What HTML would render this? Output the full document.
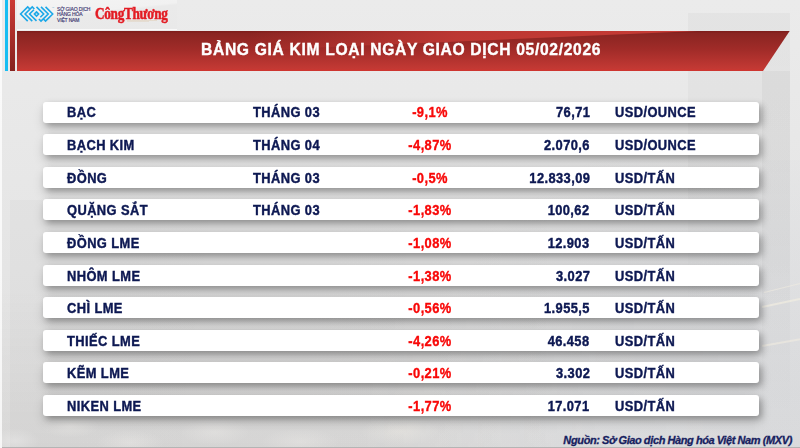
<!DOCTYPE html>
<html><head><meta charset="utf-8">
<style>
html,body{margin:0;padding:0;}
body{width:800px;height:448px;overflow:hidden;position:relative;background:#e2e2e2;font-family:"Liberation Sans",sans-serif;}
.abs{position:absolute;}
.bg{left:0;top:0;width:800px;height:448px;
 background:linear-gradient(180deg,#ebebeb 0%,#e8e8e8 30%,#e5e5e5 60%,#e0e0e0 100%);}
.stripe1{left:5.4px;top:0;width:2.6px;height:71px;background:#17bdf2;}
.stripe2{left:10px;top:0;width:5px;height:71px;background:linear-gradient(180deg,#cc3a35 0%,#a92e2a 50%,#86231f 100%);}
.logobox{left:17px;top:0;width:160px;height:28.5px;background:linear-gradient(174deg,#f4f4f4 0%,#f1f1f1 42%,#eaeaea 47%,#e9e9e9 100%);box-shadow:0 1px 0 rgba(255,255,255,0.7);}
.banner{left:17px;top:30.5px;width:773px;height:40.5px;
 background:linear-gradient(180deg,#7c1c1a 0%,#8a2522 6%,#a02b28 45%,#c33934 94%,#d0352f 100%);
 clip-path:polygon(0 0,100% 0,calc(100% - 27px) 100%,0 100%);}
.hl{left:250px;top:30.5px;width:459px;height:20px;
 background:linear-gradient(90deg,rgba(196,58,53,0) 0%,rgba(196,58,53,0.85) 45%,rgba(200,60,54,1) 100%);
 clip-path:polygon(0 0,100% 0,0 100%);}
.title{left:201px;top:39px;color:#fff;font-weight:bold;font-size:17px;line-height:22px;white-space:nowrap;letter-spacing:0.72px;-webkit-text-stroke:0.4px #fff;transform:scaleX(0.92);transform-origin:0 50%;}
.row{position:absolute;left:43px;width:716px;height:21px;background:#fff;border-radius:3px;
 box-shadow:3px 3px 6px rgba(0,0,0,0.26),1px 6px 12px rgba(0,0,0,0.16);}
.t{position:absolute;font-weight:bold;font-size:14px;line-height:21px;color:#0d1852;white-space:nowrap;top:1px;letter-spacing:0.45px;transform:scaleX(0.92);transform-origin:0 50%;-webkit-text-stroke:0.4px #0d1852;}
.c1{left:24px;}
.c4{transform-origin:100% 50% !important;}
.c3{transform-origin:50% 50% !important;}
.r1 .t{top:0px;}
.c2{left:210px;}
.c3{left:287px;width:200px;text-align:center;color:#f80808;-webkit-text-stroke:0.35px #f80808;}
.c4{right:169px;text-align:right;}
.c5{left:572px;}
.src{right:8px;top:434px;font-weight:bold;font-style:italic;font-size:11px;line-height:13px;color:#17215f;white-space:nowrap;letter-spacing:-0.36px;word-spacing:-0.3px;-webkit-text-stroke:0.3px #17215f;}
.lg{font-size:5px;line-height:5.6px;color:#3b3570;left:57px;top:6.5px;letter-spacing:-0.15px;-webkit-text-stroke:0.15px #3b3570;white-space:nowrap;}
.ct{left:95px;top:2.8px;font-family:"Liberation Serif",serif;font-weight:bold;font-size:17.5px;line-height:20px;color:#e31b23;white-space:nowrap;transform:scaleX(0.76);transform-origin:0 0;-webkit-text-stroke:0.55px #e31b23;letter-spacing:-0.45px;}
</style></head><body>
<div class="abs bg"></div>
<div class="abs" style="left:688px;top:13px;width:102px;height:300px;background:linear-gradient(180deg,rgba(0,0,0,0.03),rgba(0,0,0,0.02) 60%,rgba(0,0,0,0))"></div>
<div class="abs" style="left:762px;top:71px;width:28px;height:377px;background:linear-gradient(180deg,rgba(0,0,0,0.035),rgba(0,0,0,0.03) 50%,rgba(0,0,0,0.0))"></div>
<div class="abs" style="left:10px;top:200px;width:560px;height:248px;background:linear-gradient(90deg,rgba(0,0,0,0.025),rgba(0,0,0,0.015) 70%,rgba(0,0,0,0))"></div>
<div class="abs" style="left:0;top:290px;width:800px;height:158px;background:linear-gradient(180deg,rgba(120,110,100,0) 0%,rgba(120,110,100,0.04) 55%,rgba(120,110,100,0.065) 100%);-webkit-mask-image:linear-gradient(90deg,#000 0%,#000 45%,rgba(0,0,0,0.15) 75%,rgba(0,0,0,0) 100%)"></div>
<div class="abs" style="left:420px;top:160px;width:380px;height:288px;background:radial-gradient(ellipse 100% 100% at 100% 80%,rgba(70,90,130,0.05) 0%,rgba(70,90,130,0.03) 50%,rgba(70,90,130,0) 100%)"></div>
<div class="abs" style="left:762px;top:306px;width:50px;height:1.5px;background:rgba(245,240,225,0.6);transform:rotate(-12deg);transform-origin:0 0;filter:blur(0.6px)"></div>
<div class="abs" style="left:762px;top:345px;width:50px;height:1.5px;background:rgba(245,240,225,0.5);transform:rotate(-10deg);transform-origin:0 0;filter:blur(0.6px)"></div>
<div class="abs" style="left:764px;top:292px;width:50px;height:1.2px;background:rgba(245,240,225,0.5);transform:rotate(-14deg);transform-origin:0 0;filter:blur(0.6px)"></div>
<div class="abs" style="left:0;top:416px;width:460px;height:31px;overflow:hidden">
<div class="abs" style="left:-10px;top:12px;width:50px;height:26px;border-radius:50%;background:radial-gradient(ellipse at 50% 50%,rgba(255,255,255,0.28),rgba(255,255,255,0) 70%)"></div>
<div class="abs" style="left:40px;top:-2px;width:60px;height:24px;border-radius:50%;background:radial-gradient(ellipse at 50% 50%,rgba(255,252,248,0.25),rgba(255,255,255,0) 70%)"></div>
<div class="abs" style="left:95px;top:14px;width:70px;height:26px;border-radius:50%;background:radial-gradient(ellipse at 50% 50%,rgba(255,252,248,0.25),rgba(255,255,255,0) 70%)"></div>
<div class="abs" style="left:180px;top:2px;width:70px;height:28px;border-radius:50%;background:radial-gradient(ellipse at 50% 50%,rgba(255,252,248,0.22),rgba(255,255,255,0) 70%)"></div>
<div class="abs" style="left:260px;top:12px;width:80px;height:28px;border-radius:50%;background:radial-gradient(ellipse at 50% 50%,rgba(255,252,248,0.22),rgba(255,255,255,0) 70%)"></div>
<div class="abs" style="left:360px;top:0px;width:80px;height:30px;border-radius:50%;background:radial-gradient(ellipse at 50% 50%,rgba(255,250,240,0.25),rgba(255,255,255,0) 70%)"></div>
</div>
<div class="abs" style="left:2px;top:447px;width:798px;height:1px;background:#b4b4b4"></div>
<div class="abs" style="left:0;top:0;width:1.5px;height:448px;background:rgba(255,255,255,0.75)"></div>
<div class="abs stripe1"></div>
<div class="abs stripe2"></div>
<div class="abs logobox"></div>
<svg class="abs" style="left:0;top:0" width="180" height="28" viewBox="0 0 180 28">
 <g fill="none" stroke="#1ca8e8" stroke-width="1.6" stroke-linecap="butt" stroke-linejoin="miter">
  <polyline points="27.7,21.1 20.6,14 27.7,6.85 29.9,9.05"/>
  <polyline points="32.25,21.1 25.1,14 32.25,6.85 34.4,9.05"/>
  <polyline points="36.5,20.9 29.6,14 33.9,9.7"/>
  <polyline points="36.5,6.85 43.65,14 40.3,17.3"/>
  <polyline points="41,6.85 48.2,14 41,21.1 38.9,19"/>
  <polyline points="45.55,6.85 52.7,14 45.55,21.1 43.4,19"/>
  <polygon points="36.5,11.9 38.6,14 36.5,16.1 34.4,14"/>
 </g>
 <text x="51.5" y="9" font-size="3" fill="#7fb8d8" font-family="Liberation Sans">™</text>
</svg>
<div class="abs lg">SỞ GIAO DỊCH<br>HÀNG HÓA<br>VIỆT NAM</div>
<div class="abs ct">CôngThương</div>
<div class="abs" style="left:127px;top:19.8px;width:30px;height:0.8px;background:#d9b98f;opacity:.3"></div>
<div class="abs" style="left:127px;top:21.1px;width:22px;height:0.8px;background:#d9b98f;opacity:.25"></div>
<div class="abs banner"></div>
<div class="abs hl"></div>
<div class="abs title">BẢNG GIÁ KIM LOẠI NGÀY GIAO DỊCH 05/02/2026</div>

<div class="row r1" style="top:101.5px"><span class="t c1">BẠC</span><span class="t c2">THÁNG 03</span><span class="t c3">-9,1%</span><span class="t c4">76,71</span><span class="t c5">USD/OUNCE</span></div>
<div class="row" style="top:134px"><span class="t c1">BẠCH KIM</span><span class="t c2">THÁNG 04</span><span class="t c3">-4,87%</span><span class="t c4">2.070,6</span><span class="t c5">USD/OUNCE</span></div>
<div class="row" style="top:166.7px"><span class="t c1">ĐỒNG</span><span class="t c2">THÁNG 03</span><span class="t c3">-0,5%</span><span class="t c4">12.833,09</span><span class="t c5">USD/TẤN</span></div>
<div class="row" style="top:199.3px"><span class="t c1">QUẶNG SẮT</span><span class="t c2">THÁNG 03</span><span class="t c3">-1,83%</span><span class="t c4">100,62</span><span class="t c5">USD/TẤN</span></div>
<div class="row" style="top:231.9px"><span class="t c1">ĐỒNG LME</span><span class="t c3">-1,08%</span><span class="t c4">12.903</span><span class="t c5">USD/TẤN</span></div>
<div class="row" style="top:264.5px"><span class="t c1">NHÔM LME</span><span class="t c3">-1,38%</span><span class="t c4">3.027</span><span class="t c5">USD/TẤN</span></div>
<div class="row" style="top:297.1px"><span class="t c1">CHÌ LME</span><span class="t c3">-0,56%</span><span class="t c4">1.955,5</span><span class="t c5">USD/TẤN</span></div>
<div class="row" style="top:329.7px"><span class="t c1">THIẾC LME</span><span class="t c3">-4,26%</span><span class="t c4">46.458</span><span class="t c5">USD/TẤN</span></div>
<div class="row" style="top:362.3px"><span class="t c1">KẼM LME</span><span class="t c3">-0,21%</span><span class="t c4">3.302</span><span class="t c5">USD/TẤN</span></div>
<div class="row" style="top:394.9px"><span class="t c1">NIKEN LME</span><span class="t c3">-1,77%</span><span class="t c4">17.071</span><span class="t c5">USD/TẤN</span></div>

<div class="abs src">Nguồn: Sở Giao dịch Hàng hóa Việt Nam (MXV)</div>
</body></html>
